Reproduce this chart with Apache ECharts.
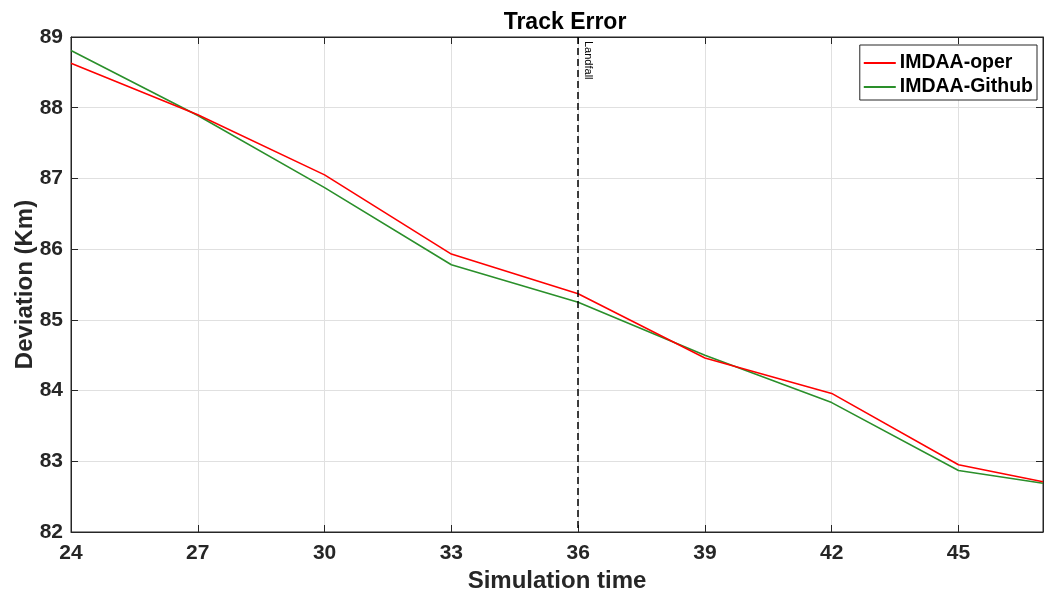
<!DOCTYPE html>
<html>
<head>
<meta charset="utf-8">
<script src="https://cdn.jsdelivr.net/npm/echarts@6/dist/echarts.min.js"></script>
<style>
html,body{margin:0;padding:0;background:#fff;}
#chart{width:1044px;height:596px;}
</style>
</head>
<body>
<div id="chart"></div>
<script>
const simTimes = [24, 27, 30, 33, 36, 39, 42, 45, 47];
const imdaaOper = [88.63, 87.90, 87.05, 85.93, 85.37, 84.46, 83.96, 82.95, 82.71];
const imdaaGithub = [88.81, 87.89, 86.87, 85.78, 85.25, 84.50, 83.83, 82.87, 82.69];
const landfallTime = 36;
const landfallLabel = 'Landfall';

const font = '"Liberation Sans", Arial, sans-serif';
const axisColor = '#262626';

const chart = echarts.init(document.getElementById('chart'));
const toPairs = vals => simTimes.map((t, i) => [t, vals[i]]);

chart.setOption({
  animation: false,
  backgroundColor: '#fff',
  title: {
    text: 'Track Error',
    left: 560,
    textAlign: 'center',
    top: 6,
    textStyle: {fontFamily: font, fontSize: 23, fontWeight: 'bold', color: '#000'}
  },
  legend: {
    orient: 'vertical',
    right: 7,
    top: 45,
    backgroundColor: '#fff',
    borderColor: axisColor,
    borderWidth: 1,
    borderRadius: 0,
    padding: [8, 4, 3, 4],
    itemGap: 4,
    itemWidth: 32,
    itemHeight: 2,
    icon: 'rect',
    textStyle: {fontFamily: font, fontSize: 19.5, fontWeight: 'bold', color: '#000', padding: [0, 0, 0, -1]},
    data: ['IMDAA-oper', 'IMDAA-Github']
  },
  grid: {left: 71, top: 37, right: 1, bottom: 64, show: true, borderColor: axisColor, borderWidth: 1, outerBoundsMode: 'none', containLabel: false},
  xAxis: [{
    type: 'value',
    min: 24, max: 47, interval: 3,
    name: 'Simulation time',
    nameLocation: 'middle',
    nameGap: 37,
    nameMoveOverlap: false,
    nameTextStyle: {fontFamily: font, fontSize: 24, fontWeight: 'bold', color: axisColor},
    axisLine: {show: true, lineStyle: {color: axisColor, width: 1}},
    axisTick: {show: true, inside: true, length: 7, lineStyle: {color: axisColor}},
    axisLabel: {fontFamily: font, fontSize: 21, fontWeight: 'bold', color: axisColor, margin: 11, showMaxLabel: false},
    splitLine: {show: true, lineStyle: {color: '#e0e0e0', width: 1}}
  }, {
    type: 'value', position: 'top',
    min: 24, max: 47, interval: 3,
    axisLine: {show: true, lineStyle: {color: axisColor}},
    axisTick: {show: true, inside: true, length: 7, lineStyle: {color: axisColor}},
    axisLabel: {show: false},
    splitLine: {show: false}
  }],
  yAxis: [{
    type: 'value',
    min: 82, max: 89, interval: 1,
    name: 'Deviation (Km)',
    nameLocation: 'middle',
    nameGap: 34,
    nameMoveOverlap: false,
    nameTextStyle: {fontFamily: font, fontSize: 24, fontWeight: 'bold', color: axisColor},
    axisLine: {show: true, lineStyle: {color: axisColor, width: 1}},
    axisTick: {show: true, inside: true, length: 7, lineStyle: {color: axisColor}},
    axisLabel: {fontFamily: font, fontSize: 21, fontWeight: 'bold', color: axisColor, margin: 8},
    splitLine: {show: true, lineStyle: {color: '#e0e0e0', width: 1}}
  }, {
    type: 'value', position: 'right',
    min: 82, max: 89, interval: 1,
    axisLine: {show: true, lineStyle: {color: axisColor}},
    axisTick: {show: true, inside: true, length: 7, lineStyle: {color: axisColor}},
    axisLabel: {show: false},
    splitLine: {show: false}
  }],
  series: [{
    name: 'IMDAA-oper',
    type: 'line',
    data: toPairs(imdaaOper),
    showSymbol: false,
    symbol: 'none',
    itemStyle: {color: '#ff0000'},
    lineStyle: {color: '#ff0000', width: 1.6},
    z: 3,
    markLine: {
      silent: true,
      symbol: 'none',
      animation: false,
      lineStyle: {color: '#000', type: [7, 4], width: 1.5},
      label: {
        show: true,
        position: 'insideStartTop',
        formatter: landfallLabel,
        fontFamily: font,
        fontSize: 11,
        color: '#000',
        distance: 4
      },
      data: [[{coord: [landfallTime, 89]}, {coord: [landfallTime, 82]}]]
    }
  }, {
    name: 'IMDAA-Github',
    type: 'line',
    data: toPairs(imdaaGithub),
    showSymbol: false,
    symbol: 'none',
    itemStyle: {color: '#2a8f2a'},
    lineStyle: {color: '#2a8f2a', width: 1.6},
    z: 2
  }]
});
</script>
</body>
</html>
